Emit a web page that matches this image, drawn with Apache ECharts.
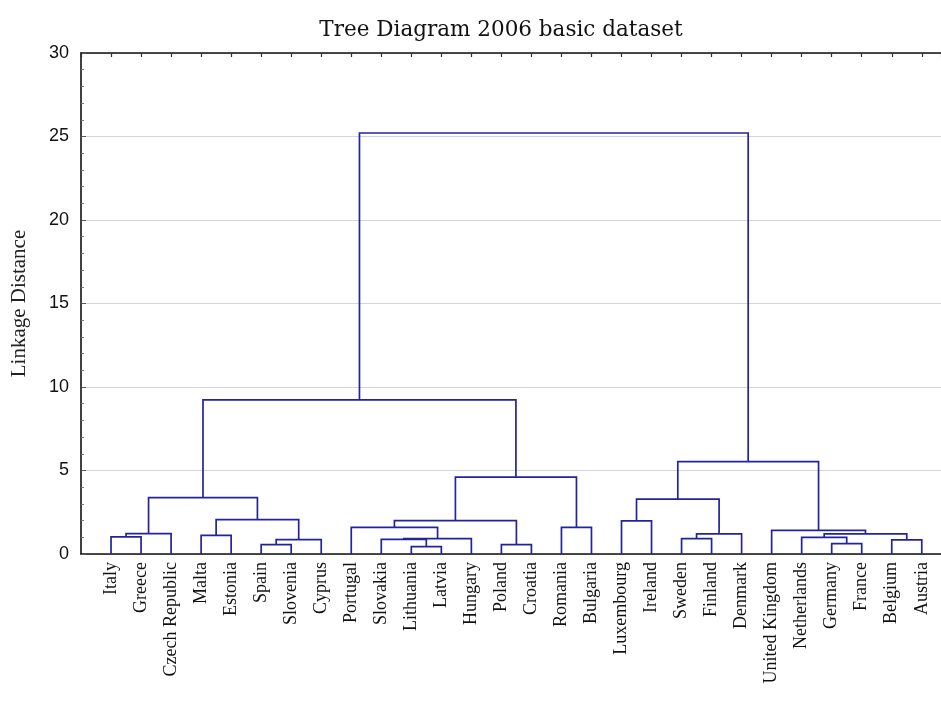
<!DOCTYPE html>
<html>
<head>
<meta charset="utf-8">
<title>Tree Diagram 2006 basic dataset</title>
<script src="https://cdn.jsdelivr.net/npm/echarts@6/dist/echarts.min.js"></script>
<style>
  html, body { margin: 0; padding: 0; background: #ffffff; }
  #chart { width: 941px; height: 715px; }
</style>
</head>
<body>
<div id="chart"></div>
<script>
// Leaves of the dendrogram, left to right
const leaves = [
  'Italy', 'Greece', 'Czech Republic', 'Malta', 'Estonia', 'Spain', 'Slovenia',
  'Cyprus', 'Portugal', 'Slovakia', 'Lithuania', 'Latvia', 'Hungary', 'Poland',
  'Croatia', 'Romania', 'Bulgaria', 'Luxembourg', 'Ireland', 'Sweden', 'Finland',
  'Denmark', 'United Kingdom', 'Netherlands', 'Germany', 'France', 'Belgium', 'Austria'
];

// Joins: indices below leaves.length are leaves, index leaves.length + k is join k
const joins = [
  [0, 1], [28, 2], [3, 4], [5, 6], [31, 7], [30, 32], [29, 33],
  [10, 11], [9, 35], [36, 12], [8, 37], [13, 14], [38, 39], [15, 16],
  [40, 41], [34, 42], [17, 18], [19, 20], [45, 21], [44, 46], [24, 25],
  [23, 48], [26, 27], [49, 50], [22, 51], [47, 52], [43, 53]
];

// Linkage distance of each join
const joinHeights = [
  1.02, 1.22, 1.12, 0.56, 0.86, 2.06, 3.37,
  0.44, 0.88, 0.92, 1.60, 0.56, 2.00, 1.60,
  4.60, 9.23, 1.98, 0.92, 1.20, 3.28, 0.62,
  1.00, 0.84, 1.20, 1.42, 5.53, 25.21
];

const yTicks = [0, 5, 10, 15, 20, 25, 30];

// Node position along the leaf axis and height, leaves at height 0
const nodeX = leaves.map((_, i) => i);
const nodeY = leaves.map(() => 0);
const links = joins.map(([a, b], k) => {
  const h = joinHeights[k];
  const item = [nodeX[a], nodeY[a], nodeX[b], nodeY[b], h];
  nodeX.push((nodeX[a] + nodeX[b]) / 2);
  nodeY.push(h);
  return item;
});

const lineColor = '#23249b';
const serif = '"Liberation Serif", "DejaVu Serif", serif';

const chart = echarts.init(document.getElementById('chart'), null, { renderer: 'canvas' });

// Leaf axis runs one step before the first leaf; the far edge stops at the page edge
const xMin = -1;
const xMax = 27.64;

chart.setOption({
  animation: false,
  backgroundColor: '#ffffff',
  title: {
    text: 'Tree Diagram 2006 basic dataset',
    left: 496,
    top: 14,
    textAlign: 'center',
    textStyle: { fontFamily: '"DejaVu Serif", serif', fontSize: 21.5, fontWeight: 'normal', color: '#111' }
  },
  grid: { left: 81, top: 53, right: 0, bottom: 161 },
  xAxis: [
    {
      type: 'value',
      position: 'bottom',
      min: xMin,
      max: xMax,
      interval: 1,
      splitLine: { show: false },
      axisTick: { show: false },
      axisLine: { show: true, onZero: false, lineStyle: { color: '#111', width: 1.6 } },
      axisLabel: {
        rotate: 90,
        margin: 8,
        fontFamily: serif,
        fontSize: 18,
        color: '#111',
        showMinLabel: true,
        showMaxLabel: false,
        formatter: v => leaves[v] || ''
      }
    },
    {
      type: 'value',
      position: 'top',
      min: xMin,
      max: xMax,
      interval: 1,
      splitLine: { show: false },
      axisLabel: { show: false },
      axisTick: { show: true, inside: true, length: 4, lineStyle: { color: '#333', width: 1.2 } },
      axisLine: { show: true, onZero: false, lineStyle: { color: '#111', width: 1.6 } }
    }
  ],
  yAxis: {
    type: 'value',
    min: yTicks[0],
    max: yTicks[yTicks.length - 1],
    interval: 5,
    name: 'Linkage Distance',
    nameLocation: 'middle',
    nameGap: 51,
    nameTextStyle: { fontFamily: serif, fontSize: 21, color: '#222' },
    axisLine: { show: true, onZero: false, lineStyle: { color: '#111', width: 1.6 } },
    axisTick: { show: true, inside: true, length: 5, lineStyle: { color: '#555' } },
    minorTick: { show: true, splitNumber: 5, length: 3, lineStyle: { color: '#777' } },
    splitLine: { show: true, lineStyle: { color: '#d4d4d4', width: 1 } },
    axisLabel: {
      margin: 12,
      fontFamily: '"Liberation Sans", Arial, sans-serif',
      fontSize: 18,
      color: '#111'
    }
  },
  series: [{
    type: 'custom',
    xAxisIndex: 0,
    silent: true,
    data: links,
    encode: { x: [0, 2], y: [1, 3, 4] },
    renderItem: (params, api) => {
      const pl = api.coord([api.value(0), api.value(1)]);
      const tl = api.coord([api.value(0), api.value(4)]);
      const tr = api.coord([api.value(2), api.value(4)]);
      const pr = api.coord([api.value(2), api.value(3)]);
      return {
        type: 'polyline',
        shape: { points: [pl, tl, tr, pr] },
        style: { stroke: lineColor, lineWidth: 1.7, fill: null }
      };
    }
  }]
});
</script>
</body>
</html>
